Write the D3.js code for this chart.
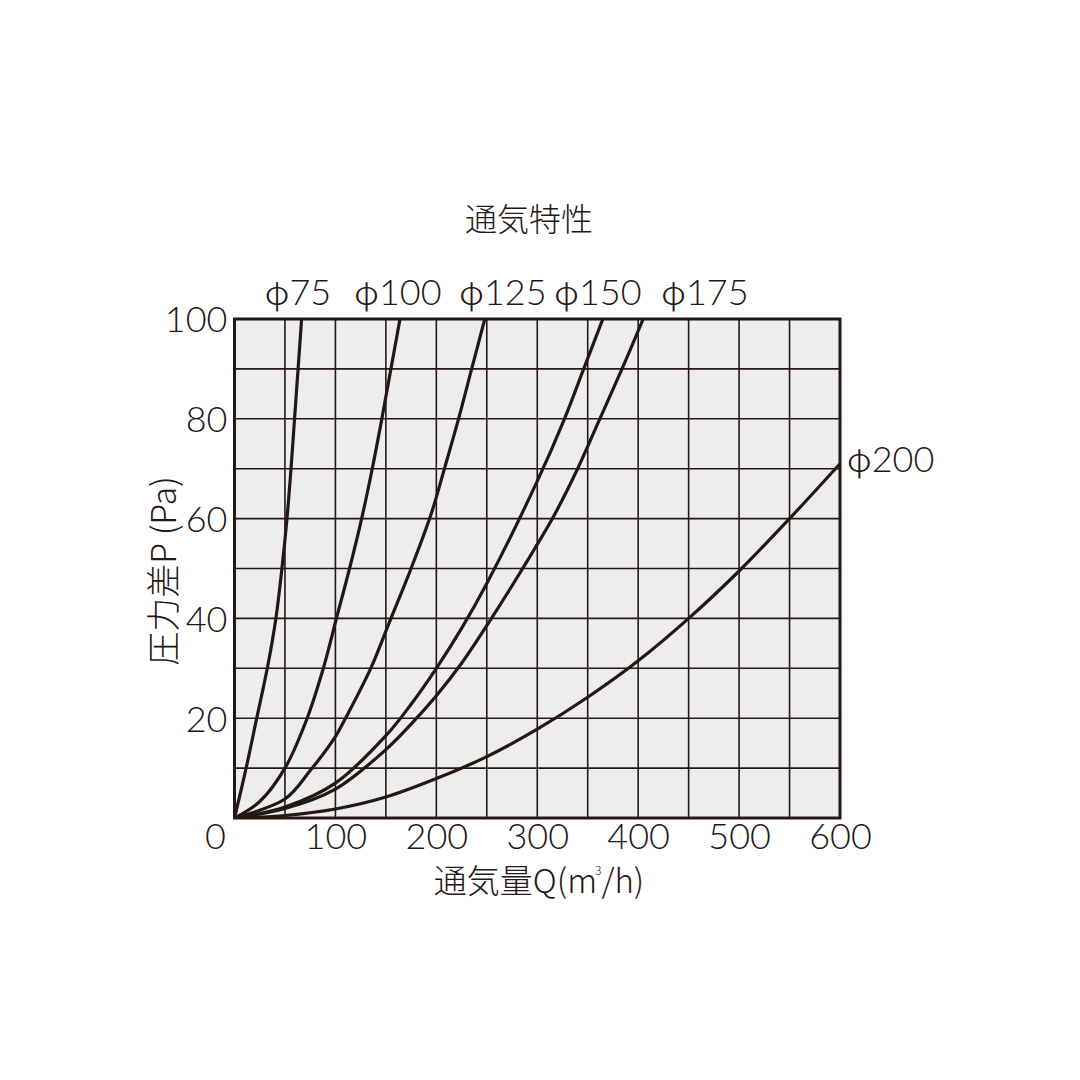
<!DOCTYPE html>
<html>
<head>
<meta charset="utf-8">
<script src="https://cdn.jsdelivr.net/npm/d3@7"></script>
<style>
  body { margin: 0; background: #fff; }
  svg text { font-family: "Noto Sans CJK JP", "Noto Sans", sans-serif; fill: #231815; }
  .num { font-family: Lato, "Noto Sans", sans-serif; font-weight: 300; }
</style>
</head>
<body>
<svg id="chart"></svg>
<script>
// 通気特性 : 圧力差P (Pa) vs 通気量Q (m3/h)
const seriesNames = ["φ75", "φ100", "φ125", "φ150", "φ175", "φ200"];

const q75  = [0, 11.5, 22, 32.5, 41, 47, 52, 56, 59.5, 63, 66.5];
const p75  = [0, 10, 20, 30, 40, 50, 60, 70, 80, 90, 100];

const q100 = [0, 25, 50, 72, 88, 101, 114, 126, 136.5, 146, 155, 164];
const p100 = [0, 3.3, 10, 20, 30, 40, 50, 60, 70, 80, 90, 100];

const q125 = [0, 50, 75, 100, 110, 135, 155, 175, 195, 208, 222, 235, 248];
const p125 = [0, 3.8, 9.5, 16.3, 20, 30, 40, 50, 61, 70, 80, 90, 100];

const q150 = [0, 50, 100, 150, 175, 200, 225, 250, 300, 327, 346, 365];
const p150 = [0, 2.2, 7, 16.5, 22.8, 30, 38, 47, 67.5, 80, 90, 100];

const q175 = [0, 50, 100, 150, 175, 200, 225, 253, 284, 315, 340, 362, 384, 405];
const p175 = [0, 1.9, 5.8, 13.7, 18.8, 24.5, 31, 39.5, 49.5, 60, 70, 80, 90, 100];

const q200 = [0, 50, 100, 150, 200, 250, 300, 350, 400, 450, 500, 550, 600];
const p200 = [0, 0.5, 1.8, 4.2, 7.9, 12.3, 17.8, 24.2, 31.5, 40, 49.5, 60, 71];

const xTicks = [0, 100, 200, 300, 400, 500, 600];
const yTicks = [20, 40, 60, 80, 100];

const seriesQ = [q75, q100, q125, q150, q175, q200];
const seriesP = [p75, p100, p125, p150, p175, p200];

const config = {
  width: 1080,
  height: 1080,
  margin: { top: 319, right: 240, bottom: 262, left: 234.5 }
};

const ink = "#231815";

const svg = d3.select("#chart")
  .attr("width", config.width)
  .attr("height", config.height);

const innerW = config.width - config.margin.left - config.margin.right;
const innerH = config.height - config.margin.top - config.margin.bottom;

const x = d3.scaleLinear().domain([0, 600]).range([0, innerW]);
const y = d3.scaleLinear().domain([0, 100]).range([innerH, 0]);

const g = svg.append("g")
  .attr("transform", `translate(${config.margin.left},${config.margin.top})`);

// plot background
g.append("rect")
  .attr("width", innerW)
  .attr("height", innerH)
  .attr("fill", "#ededee");

// grid
g.append("g")
  .selectAll("line")
  .data(d3.range(50, 600, 50))
  .join("line")
  .attr("x1", d => x(d)).attr("x2", d => x(d))
  .attr("y1", 0).attr("y2", innerH)
  .attr("stroke", ink).attr("stroke-width", 1.6);

g.append("g")
  .selectAll("line")
  .data(d3.range(10, 100, 10))
  .join("line")
  .attr("x1", 0).attr("x2", innerW)
  .attr("y1", d => y(d)).attr("y2", d => y(d))
  .attr("stroke", ink).attr("stroke-width", 1.6);

// curves
const line = d3.line()
  .x(d => x(d[0]))
  .y(d => y(d[1]))
  .curve(d3.curveCatmullRom.alpha(0.5));

const curves = seriesNames.map((name, i) => ({
  name: name,
  pts: seriesQ[i].map((q, j) => [q, seriesP[i][j]])
}));

g.append("defs").append("clipPath").attr("id", "clip")
  .append("rect").attr("width", innerW).attr("height", innerH);

g.append("g")
  .attr("clip-path", "url(#clip)")
  .selectAll("path")
  .data(curves)
  .join("path")
  .attr("d", d => line(d.pts))
  .attr("fill", "none")
  .attr("stroke", ink)
  .attr("stroke-width", 3.2)
  .attr("stroke-linejoin", "round");

// frame
g.append("rect")
  .attr("width", innerW)
  .attr("height", innerH)
  .attr("fill", "none")
  .attr("stroke", ink)
  .attr("stroke-width", 3);

// axes (text only)
const xAxis = d3.axisBottom(x).tickValues(xTicks.filter(d => d > 0)).tickSize(0).tickPadding(3);
const xAxisG = g.append("g")
  .attr("transform", `translate(0,${innerH})`)
  .call(xAxis);
xAxisG.select(".domain").remove();
xAxisG.selectAll("text")
  .attr("class", "num")
  .attr("font-size", 36)
  .attr("fill", ink)
  .attr("dy", "0.78em")
  .style("font-family", "Lato, sans-serif");

const yAxis = d3.axisLeft(y).tickValues(yTicks).tickSize(0).tickPadding(7);
const yAxisG = g.append("g").call(yAxis);
yAxisG.select(".domain").remove();
yAxisG.selectAll("text")
  .attr("class", "num")
  .attr("font-size", 36)
  .attr("fill", ink)
  .attr("dy", "0.36em")
  .style("font-family", "Lato, sans-serif");

// shared zero at the corner
g.append("text")
  .attr("class", "num")
  .attr("x", x(0) - 19)
  .attr("y", innerH + 3)
  .attr("dy", "0.78em")
  .attr("text-anchor", "middle")
  .attr("font-size", 36)
  .text(xTicks[0]);

// label with a CJK phi followed by Lato digits
function phiLabel(sel, name) {
  sel.append("tspan").attr("font-size", 34).attr("font-weight", 300).text(name.slice(0, 1));
  sel.append("tspan").attr("class", "num").attr("font-size", 36).text(name.slice(1));
}

// series labels on top
const topLabelX = [298, 398, 503, 598, 705];
curves.slice(0, 5).forEach((d, i) => {
  g.append("text")
    .attr("x", topLabelX[i] - config.margin.left)
    .attr("y", -14)
    .attr("text-anchor", "middle")
    .call(phiLabel, d.name);
});

// φ200 at the right end
const last = curves[5].pts[curves[5].pts.length - 1];
g.append("text")
  .attr("x", x(last[0]) + 7)
  .attr("y", y(last[1]) + 8)
  .call(phiLabel, curves[5].name);

// titles
svg.append("text")
  .attr("x", 529)
  .attr("y", 231)
  .attr("text-anchor", "middle")
  .attr("font-size", 32)
  .attr("font-weight", 300)
  .text("通気特性");

const xTitle = svg.append("text")
  .attr("x", 539)
  .attr("y", 893)
  .attr("text-anchor", "middle")
  .attr("font-size", 33)
  .attr("font-weight", 300);
xTitle.append("tspan").text("通気量Q(m");
xTitle.append("tspan").attr("font-size", 12).attr("dy", -18).attr("dx", -2).text("3");
xTitle.append("tspan").attr("dy", 18).text("/h)");

svg.append("text")
  .attr("transform", "translate(176,571) rotate(-90)")
  .attr("text-anchor", "middle")
  .attr("font-size", 34)
  .attr("font-weight", 300)
  .text("圧力差P (Pa)");
</script>
</body>
</html>
